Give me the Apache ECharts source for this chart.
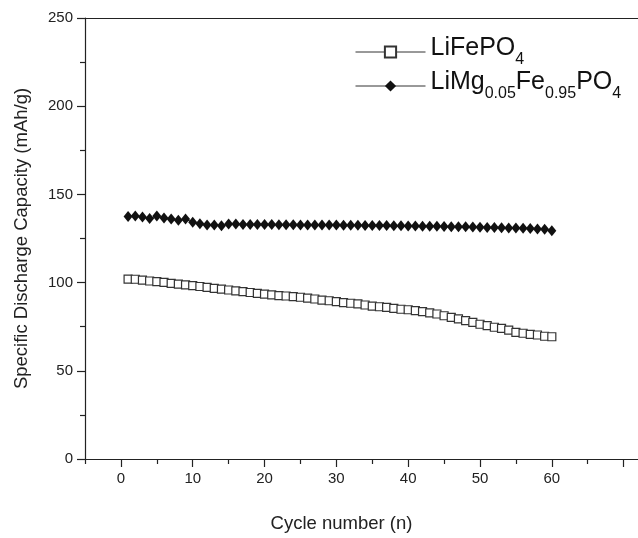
<!DOCTYPE html>
<html>
<head>
<meta charset="utf-8">
<script src="https://cdn.jsdelivr.net/npm/echarts@6/dist/echarts.min.js"></script>
<style>
html,body{margin:0;padding:0;background:#fff;}
#chart{width:638px;height:538px;}
</style>
</head>
<body>
<div id="chart"></div>
<script>
var cycles = [1, 2, 3, 4, 5, 6, 7, 8, 9, 10,
  11, 12, 13, 14, 15, 16, 17, 18, 19, 20,
  21, 22, 23, 24, 25, 26, 27, 28, 29, 30,
  31, 32, 33, 34, 35, 36, 37, 38, 39, 40,
  41, 42, 43, 44, 45, 46, 47, 48, 49, 50,
  51, 52, 53, 54, 55, 56, 57, 58, 59, 60];

var lifepo4 = [102.0, 101.9, 101.4, 100.9, 100.5, 100.1, 99.6, 99.1, 98.7, 98.3,
  97.8, 97.3, 96.7, 96.3, 95.8, 95.3, 94.9, 94.4, 93.9, 93.5,
  93.0, 92.6, 92.4, 92.0, 91.7, 91.2, 90.7, 90.1, 89.7, 89.2,
  88.6, 88.3, 87.9, 87.3, 86.7, 86.3, 86.0, 85.4, 84.9, 84.6,
  84.1, 83.5, 82.8, 82.2, 81.2, 80.3, 79.4, 78.4, 77.5, 76.4,
  75.6, 74.7, 74.1, 73.1, 71.8, 71.3, 70.7, 70.3, 69.6, 69.3];

var limgfepo4 = [137.5, 137.8, 137.2, 136.3, 137.8, 136.6, 136.0, 135.3, 136.0, 134.2,
  133.3, 132.7, 132.7, 132.2, 133.2, 133.2, 133.0, 133.0, 133.0, 132.9,
  132.9, 132.8, 132.8, 132.8, 132.7, 132.7, 132.7, 132.6, 132.6, 132.6,
  132.5, 132.5, 132.5, 132.4, 132.4, 132.3, 132.3, 132.2, 132.2, 132.1,
  132.1, 132.0, 131.9, 131.9, 131.8, 131.7, 131.6, 131.6, 131.5, 131.4,
  131.3, 131.2, 131.1, 131.0, 130.9, 130.8, 130.6, 130.4, 130.2, 129.4];

var seriesNames = ['LiFePO4', 'LiMg0.05Fe0.95PO4'];
var legendRich = {
  'LiFePO4': '{a|LiFePO}{b|4}',
  'LiMg0.05Fe0.95PO4': '{a|LiMg}{b|0.05}{a|Fe}{b|0.95}{a|PO}{b|4}'
};
var xMajorTicks = [0, 10, 20, 30, 40, 50, 60, 70];
var xMinorTicks = [-5, 5, 15, 25, 35, 45, 55, 65];
var xLabels = [0, 10, 20, 30, 40, 50, 60];

function pairs(ys) {
  return cycles.map(function (c, i) { return [c, ys[i]]; });
}

var FONT = 'Liberation Sans, Arial, Helvetica, sans-serif';
var AX = '#222';

var chart = echarts.init(document.getElementById('chart'), null, {renderer: 'canvas'});
chart.setOption({
  animation: false,
  backgroundColor: '#fff',
  grid: {left: 85, right: 0, top: 18, bottom: 79, containLabel: false},
  xAxis: [{
    type: 'value', min: -5, max: 72, position: 'bottom',
    name: 'Cycle number (n)', nameLocation: 'middle', nameGap: 55,
    nameTextStyle: {fontFamily: FONT, fontSize: 18.5, color: AX, padding: [0, 40, 0, 0]},
    axisLine: {show: true, onZero: false, lineStyle: {color: AX, width: 1.2}},
    axisTick: {show: true, length: 8, customValues: xMajorTicks, lineStyle: {color: AX, width: 1.2}},
    axisLabel: {show: true, customValues: xLabels, fontFamily: FONT, fontSize: 15, color: AX, margin: 12},
    splitLine: {show: false}
  }, {
    type: 'value', min: -5, max: 72, position: 'bottom',
    axisLine: {show: false},
    axisTick: {show: true, length: 5, customValues: xMinorTicks, lineStyle: {color: AX, width: 1.2}},
    axisLabel: {show: false},
    splitLine: {show: false}
  }, {
    type: 'value', min: -5, max: 72, position: 'top',
    axisLine: {show: true, onZero: false, lineStyle: {color: AX, width: 1.2}},
    axisTick: {show: false}, axisLabel: {show: false}, splitLine: {show: false}
  }],
  yAxis: {
    type: 'value', min: 0, max: 250, interval: 50,
    name: 'Specific Discharge Capacity (mAh/g)', nameLocation: 'middle', nameGap: 54,
    nameTextStyle: {fontFamily: FONT, fontSize: 18.5, color: AX},
    axisLine: {show: true, onZero: false, lineStyle: {color: AX, width: 1.2}},
    axisTick: {show: true, length: 8, lineStyle: {color: AX, width: 1.2}},
    minorTick: {show: true, splitNumber: 2, length: 5, lineStyle: {color: AX, width: 1.2}},
    axisLabel: {fontFamily: FONT, fontSize: 15, color: AX, margin: 12},
    splitLine: {show: false}
  },
  legend: {
    orient: 'vertical', left: 350, top: 31, itemWidth: 70, itemHeight: 14, itemGap: 2,
    data: seriesNames,
    lineStyle: {width: 1, color: '#333'},
    formatter: function (n) { return legendRich[n]; },
    textStyle: {
      fontFamily: FONT, color: '#111',
      rich: {
        a: {fontFamily: FONT, fontSize: 25, color: '#111', verticalAlign: 'bottom', padding: [0, 0, 7, 0]},
        b: {fontFamily: FONT, fontSize: 16, color: '#111', verticalAlign: 'bottom'}
      }
    }
  },
  series: [{
    name: seriesNames[0], type: 'line', xAxisIndex: 0,
    data: pairs(lifepo4),
    symbol: 'rect', symbolSize: 8,
    itemStyle: {color: '#fff', borderColor: '#333', borderWidth: 1.2},
    lineStyle: {color: '#000', width: 1},
    z: 2
  }, {
    name: seriesNames[1], type: 'line', xAxisIndex: 0,
    data: pairs(limgfepo4),
    symbol: 'diamond', symbolSize: [9, 11],
    itemStyle: {color: '#111', borderColor: '#111', borderWidth: 0},
    lineStyle: {color: '#000', width: 1},
    z: 3
  }]
});
</script>
</body>
</html>
